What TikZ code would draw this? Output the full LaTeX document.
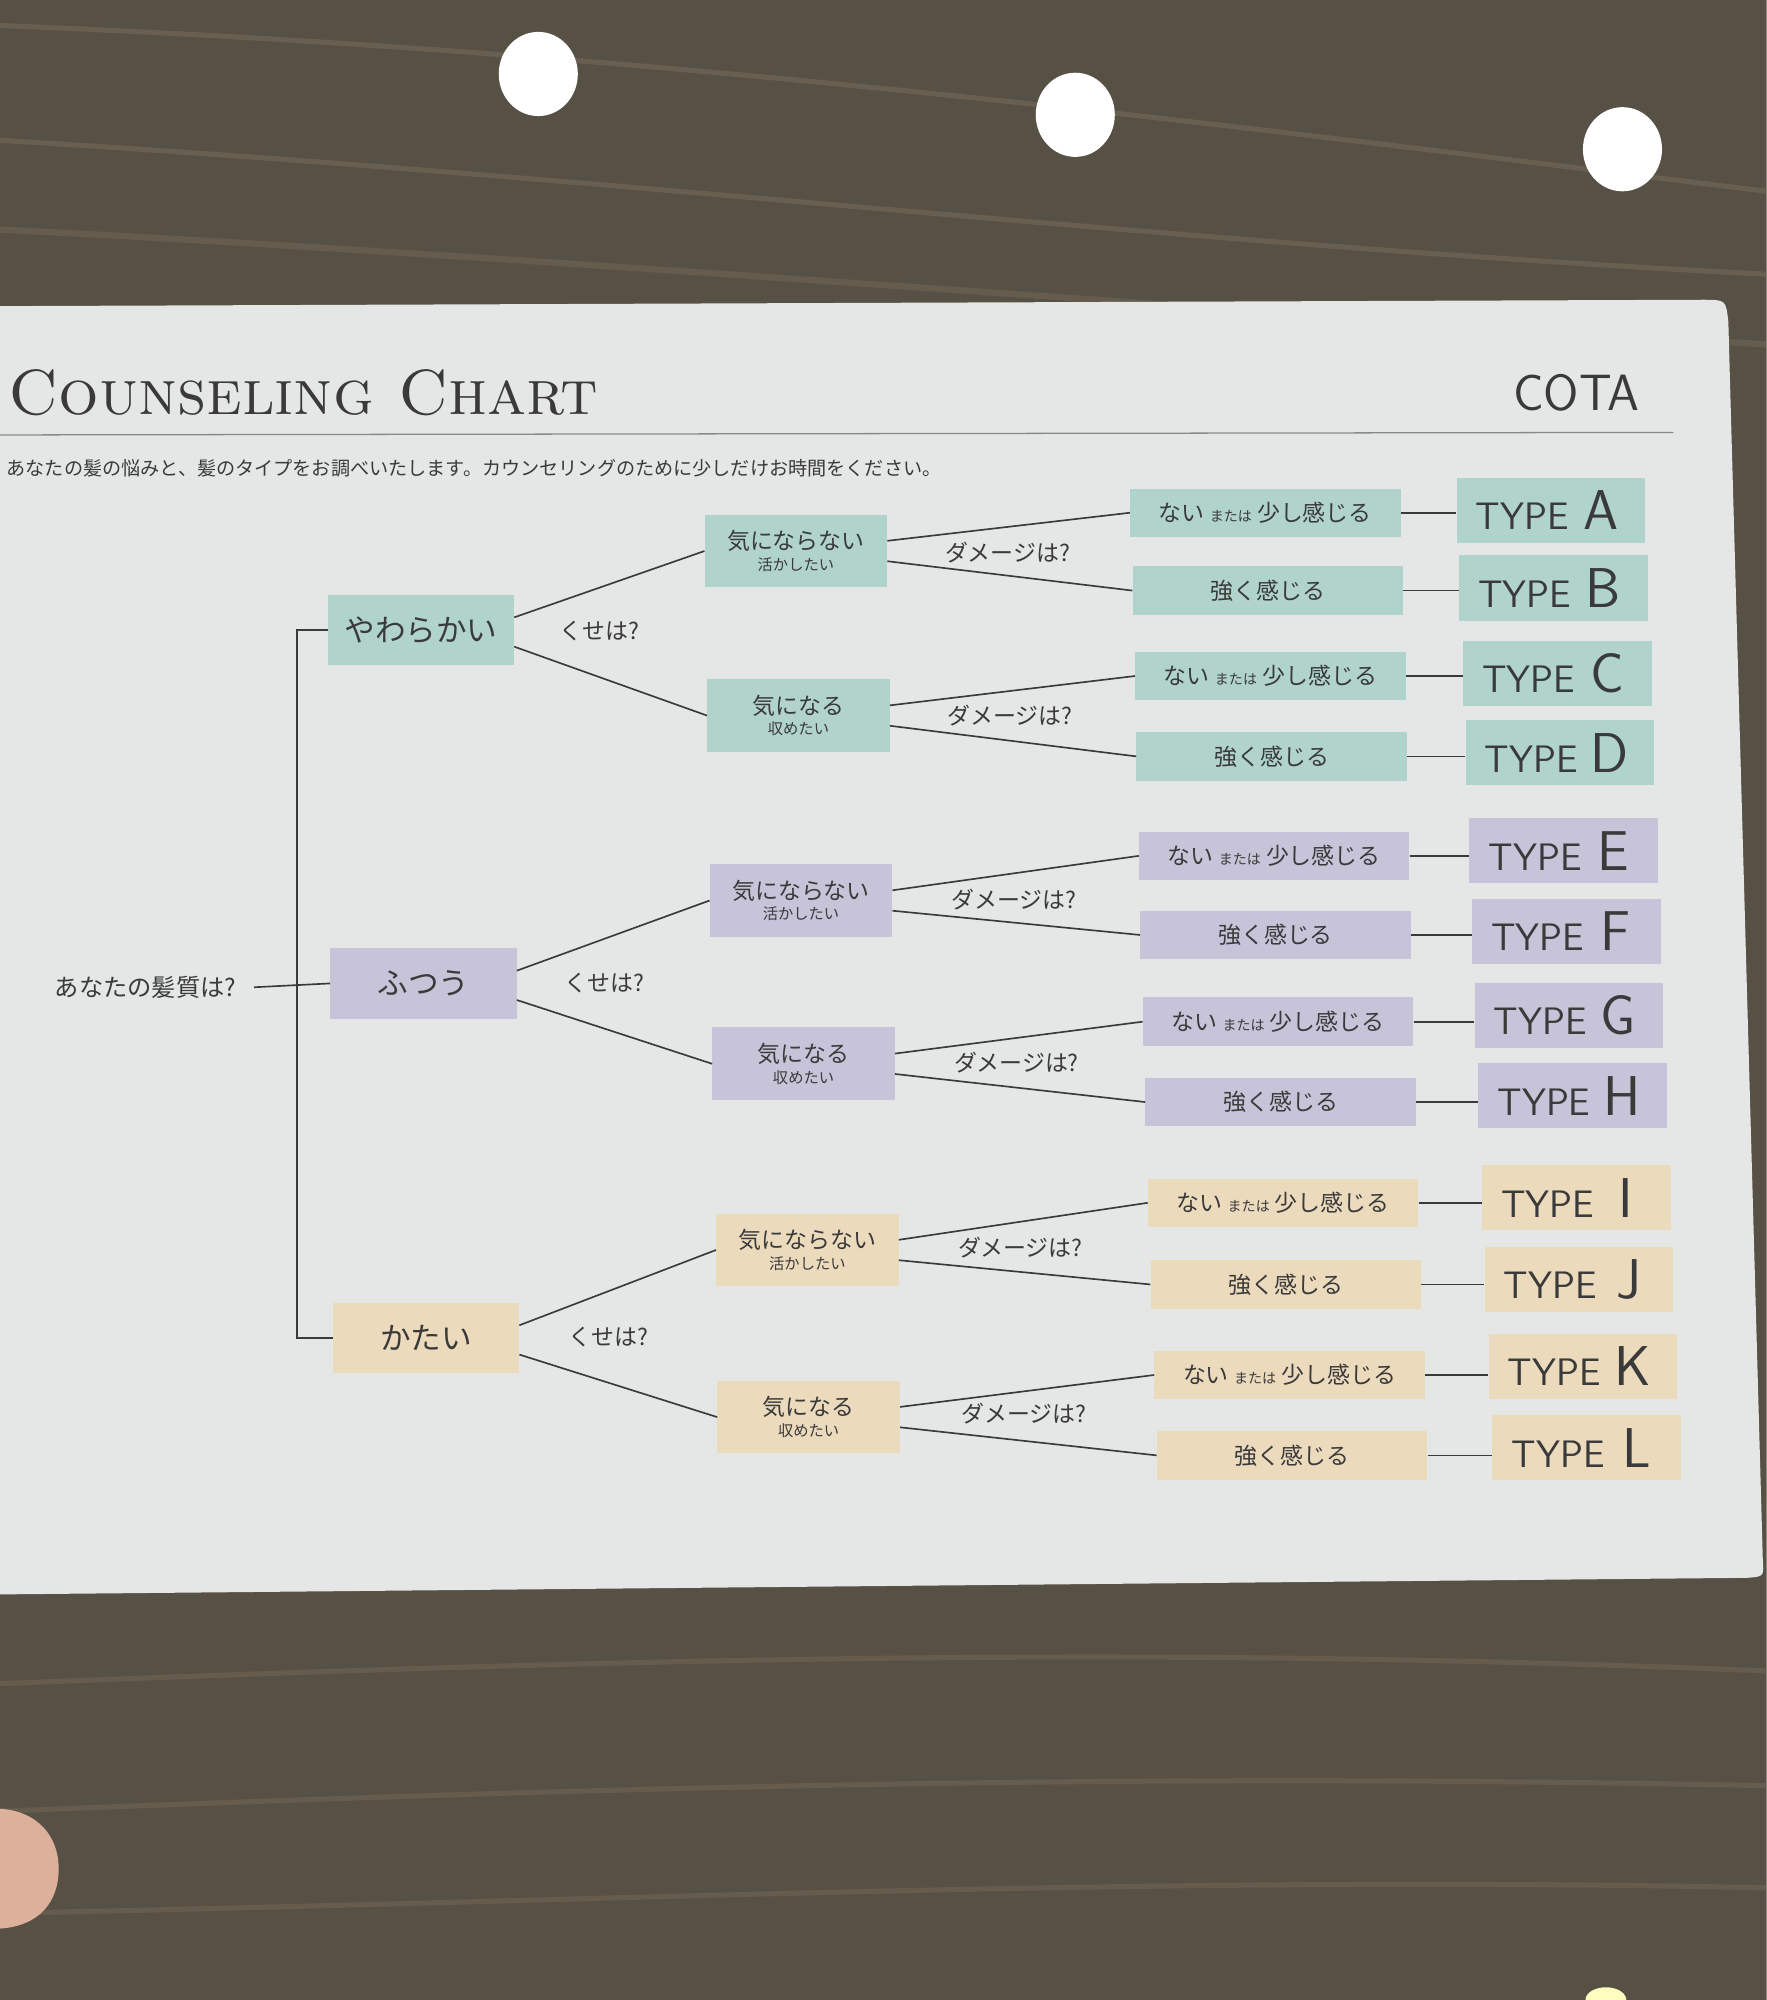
\documentclass[tikz,border=0pt]{standalone}
\usepackage{fontspec}
\newfontfamily\jp{Noto Sans CJK JP}
\usetikzlibrary{positioning}
\definecolor{wood}{HTML}{575044}
\definecolor{grain}{HTML}{7A6E5E}
\definecolor{card}{HTML}{E5E7E7}
\definecolor{mint}{HTML}{B0D4CB}
\definecolor{lilac}{HTML}{C7C4D9}
\definecolor{sand}{HTML}{ECDABD}
\definecolor{ink}{HTML}{3A3A3A}
\definecolor{skin}{HTML}{DDB09C}

\begin{document}
\begin{tikzpicture}[x=1pt, y=-1pt, every text node part/.style={align=center}]
        \tikzset{
          hair/.style={fill=#1, text=ink, minimum width=146pt, minimum height=55pt, inner sep=0pt, font=\jp\fontsize{24}{26}\selectfont},
          wish/.style={fill=#1, text=ink, minimum width=143pt, minimum height=57pt, inner sep=0pt, font=\jp\fontsize{18}{19}\selectfont},
          dmg/.style={fill=#1, text=ink, minimum width=212pt, minimum height=38pt, inner sep=0pt, font=\jp\fontsize{18}{20}\selectfont},
          tbox/.style={fill=#1, text=ink, minimum width=148pt, minimum height=51pt, inner sep=0pt, font=\sffamily\fontsize{30}{32}\selectfont},
          ask/.style={text=ink, font=\jp\fontsize{18}{20}\selectfont},
          link/.style={draw=ink, line width=1.3pt},
        }
        \clip (0,0) rectangle (1385,1568);
        % table, lamps and thumb
        \fill[wood] (0,0) rectangle (1385,1568);
        \draw[grain, opacity=.5, line width=4pt] (0,20) .. controls (500,40) and (900,90) .. (1385,150);
        \draw[grain, opacity=.5, line width=4pt] (0,110) .. controls (500,140) and (900,190) .. (1385,215);
        \draw[grain, opacity=.4, line width=5pt] (0,180) .. controls (400,200) and (900,240) .. (1385,270);
        \draw[grain, opacity=.4, line width=4pt] (0,1320) .. controls (500,1300) and (900,1290) .. (1385,1310);
        \draw[grain, opacity=.4, line width=4pt] (0,1420) .. controls (500,1400) and (900,1390) .. (1385,1400);
        \draw[grain, opacity=.4, line width=4pt] (0,1500) .. controls (500,1490) and (900,1470) .. (1385,1480);
        \fill[white] (422,58) ellipse (31pt and 33pt);
        \fill[white] (843,90) ellipse (31pt and 33pt);
        \fill[white] (1272,117) ellipse (31pt and 33pt);
        \fill[yellow!25] (1259,1568) ellipse (16pt and 10pt);
        \fill[skin] (0,1418) .. controls (30,1420) and (46,1440) .. (46,1465) .. controls (46,1492) and (30,1510) .. (0,1512) -- cycle;
        % the card
        \fill[card] (0,240) -- (1335,235) .. controls (1353,235) .. (1355,252) -- (1382,1222) .. controls (1383,1236) .. (1370,1237) -- (0,1250) -- cycle;
        \node[anchor=base west, text=ink, font=\fontsize{50}{52}\selectfont] (title) at (3,325) {\textsc{Counseling Chart}};
        \node[anchor=base east, text=ink, font=\sffamily\fontsize{40}{42}\selectfont] (brand) at (1289,322) {COTA};
        \draw[ink!60, line width=1pt] (0,341) -- (1312,339);
        \node[anchor=west, inner sep=0pt, text=ink, font=\jp\fontsize{15}{17}\selectfont] (intro) at (5,367) {あなたの髪の悩みと、髪のタイプをお調べいたします。カウンセリングのために少しだけお時間をください。};
        % 
        \node[ask, inner xsep=14pt, font=\jp\fontsize{19}{21}\selectfont] (root) at (114,774) {あなたの髪質は?};
        \node[hair=mint] (soft) at (330,494) {やわらかい};
        \node[hair=lilac] (norm) at (332,771) {ふつう};
        \node[hair=sand] (hard) at (334,1049) {かたい};
        \coordinate (spine) at (233,771);
        \draw[link] (root.east) -- (norm.west);
        \draw[link] (soft.west) -- (soft.west -| spine) -- (hard.west -| spine) -- (hard.west);
        \node[ask] (q1) at (470,495) {くせは?};
        \node[ask] (q2) at (474,771) {くせは?};
        \node[ask] (q3) at (477,1048) {くせは?};
        % 
        \node[wish=mint] (s1) at (624,432) {気にならない\\[-3pt]{\fontsize{12}{13}\selectfont 活かしたい}};
        \node[wish=mint] (s2) at (626,561) {気になる\\[-3pt]{\fontsize{12}{13}\selectfont 収めたい}};
        \node[wish=lilac] (n1) at (628,706) {気にならない\\[-3pt]{\fontsize{12}{13}\selectfont 活かしたい}};
        \node[wish=lilac] (n2) at (630,834) {気になる\\[-3pt]{\fontsize{12}{13}\selectfont 収めたい}};
        \node[wish=sand] (h1) at (633,980) {気にならない\\[-3pt]{\fontsize{12}{13}\selectfont 活かしたい}};
        \node[wish=sand] (h2) at (634,1111) {気になる\\[-3pt]{\fontsize{12}{13}\selectfont 収めたい}};
        \draw[link] ([yshift=10pt]soft.east) -- (s1.west);
        \draw[link] ([yshift=-13pt]soft.east) -- (s2.west);
        \draw[link] ([yshift=10pt]norm.east) -- (n1.west);
        \draw[link] ([yshift=-13pt]norm.east) -- (n2.west);
        \draw[link] ([yshift=10pt]hard.east) -- (h1.west);
        \draw[link] ([yshift=-13pt]hard.east) -- (h2.west);
        % 
        \node[ask] (d1) at (790,433) {ダメージは?};
        \node[ask] (d2) at (792,561) {ダメージは?};
        \node[ask] (d3) at (795,705) {ダメージは?};
        \node[ask] (d4) at (797,833) {ダメージは?};
        \node[ask] (d5) at (800,978) {ダメージは?};
        \node[ask] (d6) at (803,1108) {ダメージは?};
        % 
        \node[dmg=mint] (rA) at (992,402) {ない {\fontsize{11}{12}\selectfont または} 少し感じる};
        \node[dmg=mint] (rB) at (994,463) {強く感じる};
        \node[dmg=mint] (rC) at (996,530) {ない {\fontsize{11}{12}\selectfont または} 少し感じる};
        \node[dmg=mint] (rD) at (997,593) {強く感じる};
        \node[dmg=lilac] (rE) at (999,671) {ない {\fontsize{11}{12}\selectfont または} 少し感じる};
        \node[dmg=lilac] (rF) at (1000,733) {強く感じる};
        \node[dmg=lilac] (rG) at (1002,801) {ない {\fontsize{11}{12}\selectfont または} 少し感じる};
        \node[dmg=lilac] (rH) at (1004,864) {強く感じる};
        \node[dmg=sand] (rI) at (1006,943) {ない {\fontsize{11}{12}\selectfont または} 少し感じる};
        \node[dmg=sand] (rJ) at (1008,1007) {強く感じる};
        \node[dmg=sand] (rK) at (1011,1078) {ない {\fontsize{11}{12}\selectfont または} 少し感じる};
        \node[dmg=sand] (rL) at (1013,1141) {強く感じる};
        \draw[link] ([yshift=8pt]s1.east) -- (rA.west);
        \draw[link] ([yshift=-8pt]s1.east) -- (rB.west);
        \draw[link] ([yshift=8pt]s2.east) -- (rC.west);
        \draw[link] ([yshift=-8pt]s2.east) -- (rD.west);
        \draw[link] ([yshift=8pt]n1.east) -- (rE.west);
        \draw[link] ([yshift=-8pt]n1.east) -- (rF.west);
        \draw[link] ([yshift=8pt]n2.east) -- (rG.west);
        \draw[link] ([yshift=-8pt]n2.east) -- (rH.west);
        \draw[link] ([yshift=8pt]h1.east) -- (rI.west);
        \draw[link] ([yshift=-8pt]h1.east) -- (rJ.west);
        \draw[link] ([yshift=8pt]h2.east) -- (rK.west);
        \draw[link] ([yshift=-8pt]h2.east) -- (rL.west);
        % 
        \node[tbox=mint] (tA) at (1216,400) {TYPE\,\makebox[40pt]{\fontsize{44}{44}\selectfont A}};
        \node[tbox=mint] (tB) at (1218,461) {TYPE\,\makebox[40pt]{\fontsize{44}{44}\selectfont B}};
        \node[tbox=mint] (tC) at (1221,528) {TYPE\,\makebox[40pt]{\fontsize{44}{44}\selectfont C}};
        \node[tbox=mint] (tD) at (1223,590) {TYPE\,\makebox[40pt]{\fontsize{44}{44}\selectfont D}};
        \node[tbox=lilac] (tE) at (1226,667) {TYPE\,\makebox[40pt]{\fontsize{44}{44}\selectfont E}};
        \node[tbox=lilac] (tF) at (1228,730) {TYPE\,\makebox[40pt]{\fontsize{44}{44}\selectfont F}};
        \node[tbox=lilac] (tG) at (1230,796) {TYPE\,\makebox[40pt]{\fontsize{44}{44}\selectfont G}};
        \node[tbox=lilac] (tH) at (1233,859) {TYPE\,\makebox[40pt]{\fontsize{44}{44}\selectfont H}};
        \node[tbox=sand] (tI) at (1236,939) {TYPE\,\makebox[40pt]{\fontsize{44}{44}\selectfont I}};
        \node[tbox=sand] (tJ) at (1238,1003) {TYPE\,\makebox[40pt]{\fontsize{44}{44}\selectfont J}};
        \node[tbox=sand] (tK) at (1241,1071) {TYPE\,\makebox[40pt]{\fontsize{44}{44}\selectfont K}};
        \node[tbox=sand] (tL) at (1244,1135) {TYPE\,\makebox[40pt]{\fontsize{44}{44}\selectfont L}};
        \draw[link] (rA.east) -- (rA.east -| tA.west);
        \draw[link] (rB.east) -- (rB.east -| tB.west);
        \draw[link] (rC.east) -- (rC.east -| tC.west);
        \draw[link] (rD.east) -- (rD.east -| tD.west);
        \draw[link] (rE.east) -- (rE.east -| tE.west);
        \draw[link] (rF.east) -- (rF.east -| tF.west);
        \draw[link] (rG.east) -- (rG.east -| tG.west);
        \draw[link] (rH.east) -- (rH.east -| tH.west);
        \draw[link] (rI.east) -- (rI.east -| tI.west);
        \draw[link] (rJ.east) -- (rJ.east -| tJ.west);
        \draw[link] (rK.east) -- (rK.east -| tK.west);
        \draw[link] (rL.east) -- (rL.east -| tL.west);
    \end{tikzpicture}
\end{document}
